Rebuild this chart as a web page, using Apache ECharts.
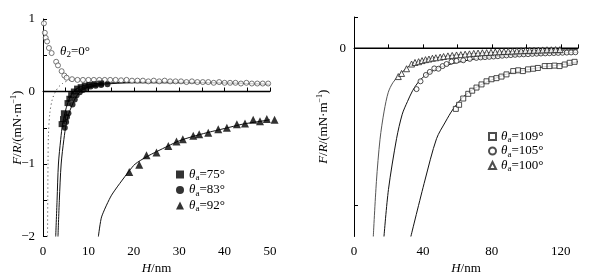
<!DOCTYPE html>
<html>
<head>
<meta charset="utf-8">
<script src="https://cdn.jsdelivr.net/npm/echarts@6/dist/echarts.min.js"></script>
<style>html,body{margin:0;padding:0;background:#fff}#main{width:599px;height:280px}</style>
</head>
<body>
<div id="main"></div>
<script>
// left panel: H/nm vs F/R
const zeroLeft = [[0, 0], [50, 0]];
const dotted0 = [[1.0,-2],[1.05,-1.5],[1.1,-1.0],[1.2,-0.6],[1.5,-0.3],[2.0,-0.12],[2.6,-0.02],[3.4,0.06],[4.3,0.11],[5.5,0.15],[7,0.17]];
const open0 = [[0.2,0.94],[0.4,0.81],[0.6,0.74],[0.9,0.69],[1.3,0.6],[1.9,0.53],[2.9,0.41],[3.3,0.36],[4.1,0.28],[4.7,0.22],[5.2,0.19],[6.4,0.17],[7.6,0.16],[8.8,0.16],[10,0.16],[11.2,0.16],[12.4,0.16],[13.6,0.16],[14.8,0.16],[16,0.16],[17.2,0.155],[18.4,0.16],[19.6,0.15],[20.8,0.15],[22,0.15],[23.2,0.14],[24.4,0.15],[25.6,0.14],[26.8,0.15],[28,0.14],[29.2,0.14],[30.4,0.14],[31.6,0.13],[32.8,0.14],[34,0.13],[35.2,0.13],[36.4,0.13],[37.6,0.12],[38.8,0.13],[40,0.12],[41.2,0.12],[42.4,0.12],[43.6,0.11],[44.8,0.12],[46,0.11],[47.2,0.11],[48.4,0.11],[49.6,0.11]];
const fit75 = [[2.8,-2],[3.1,-1.5],[3.4,-1.0],[3.9,-0.66],[4.3,-0.45],[4.8,-0.3],[5.5,-0.15],[6.3,-0.04],[7.2,0.03],[8.5,0.07],[10,0.1],[15,0.12],[25,0.13],[40,0.12],[50,0.1]];
const pts75 = [[4.1,-0.45],[4.4,-0.38],[4.6,-0.3],[5.4,-0.16],[5.8,-0.1],[6.2,-0.05],[6.8,0.0],[7.5,0.04],[8.3,0.06],[9.2,0.08],[10.2,0.09],[11.4,0.1],[12.8,0.11]];
const fit83 = [[3.3,-2],[3.6,-1.5],[4.0,-1.0],[4.6,-0.66],[5.1,-0.45],[5.6,-0.32],[6.4,-0.19],[7.2,-0.08],[8.2,0.0],[9.5,0.05],[11,0.08],[13,0.1],[20,0.12],[35,0.12],[50,0.1]];
const pts83 = [[4.8,-0.5],[5.1,-0.42],[5.3,-0.35],[5.6,-0.3],[6.5,-0.18],[7.0,-0.11],[7.4,-0.05],[8.1,-0.01],[8.8,0.02],[9.6,0.05],[10.5,0.07],[11.6,0.08],[12.8,0.09],[14.2,0.1]];
const fit92 = [[12.2,-2],[12.9,-1.73],[15.1,-1.43],[18.8,-1.11],[20.3,-1.0],[22.8,-0.9],[25,-0.83],[27.6,-0.75],[30,-0.68],[33,-0.62],[36,-0.57],[40,-0.51],[44,-0.45],[48,-0.41],[50,-0.39]];
const pts92 = [[19,-1.11],[21.2,-1.01],[22.8,-0.88],[25,-0.84],[27.6,-0.75],[29.4,-0.69],[30.8,-0.66],[33.1,-0.61],[34.4,-0.59],[36.4,-0.57],[38.6,-0.52],[40.5,-0.5],[42.7,-0.45],[44.5,-0.44],[46.3,-0.39],[47.8,-0.41],[49.3,-0.38],[51,-0.39]];

// right panel
const zeroRight = [[0, 0], [130, 0]];
const fit109 = [[33,-1.2],[41.2,-0.84],[47.9,-0.576],[53,-0.47],[57.6,-0.386],[63.4,-0.31],[70,-0.255],[80,-0.2],[90,-0.16],[100,-0.138],[110,-0.118],[120,-0.105],[130,-0.085]];
const pts109 = [[59.1,-0.386],[61,-0.36],[63.4,-0.32],[66.3,-0.29],[68.6,-0.27],[71.1,-0.25],[74,-0.23],[76.9,-0.21],[79.8,-0.197],[82.7,-0.19],[85.6,-0.18],[88.5,-0.166],[92.4,-0.145],[95.3,-0.14],[98,-0.145],[101,-0.134],[104,-0.13],[106.7,-0.125],[110.7,-0.113],[113.5,-0.113],[116.4,-0.11],[119.3,-0.113],[122.3,-0.103],[125.2,-0.092],[128,-0.086]];
const fit105 = [[17.4,-1.2],[20,-0.9],[24.7,-0.576],[28,-0.42],[31,-0.34],[34,-0.27],[37,-0.22],[40,-0.185],[43,-0.16],[50,-0.12],[60,-0.09],[70,-0.068],[80,-0.055],[100,-0.04],[120,-0.03],[130,-0.025]];
const pts105 = [[36.3,-0.26],[38.6,-0.21],[41.7,-0.17],[44,-0.15],[46.6,-0.128],[49,-0.13],[51.4,-0.113],[53.7,-0.1],[56.6,-0.084],[59.5,-0.08],[63.4,-0.076],[67.2,-0.067],[71,-0.061],[73.5,-0.058],[76,-0.056],[78.5,-0.054],[81,-0.052],[83.5,-0.05],[86,-0.047],[88.5,-0.045],[91,-0.043],[93.5,-0.041],[96,-0.039],[98.5,-0.038],[101,-0.037],[103.5,-0.035],[106,-0.034],[108.5,-0.033],[111,-0.032],[113.5,-0.031],[116,-0.03],[118.5,-0.029],[121,-0.028],[123.5,-0.027],[126,-0.026],[128.5,-0.025]];
const fit100 = [[11.2,-1.2],[13,-0.85],[15.1,-0.58],[17.5,-0.4],[19.9,-0.28],[22.5,-0.22],[25.7,-0.177],[30,-0.13],[35,-0.095],[45,-0.065],[60,-0.042],[80,-0.027],[100,-0.016],[120,-0.009],[130,-0.007]];
const pts100 = [[25.7,-0.18],[27.6,-0.16],[30.5,-0.13],[33.4,-0.1],[35.4,-0.09],[37.5,-0.085],[39.5,-0.078],[41.5,-0.072],[43.5,-0.068],[45.5,-0.063],[47.5,-0.06],[50,-0.056],[52,-0.052],[54.5,-0.048],[57,-0.045],[59.5,-0.042],[62,-0.04],[64.5,-0.037],[67,-0.035],[69.5,-0.032],[72,-0.03],[74.5,-0.028],[77,-0.027],[79.5,-0.025],[82,-0.023],[84.5,-0.022],[87,-0.02],[89.5,-0.019],[92,-0.018],[94.5,-0.016],[97,-0.015],[99.5,-0.014],[102,-0.013],[104.5,-0.012],[107,-0.011],[109.5,-0.01],[112,-0.009],[114.5,-0.009],[117,-0.008],[119.5,-0.008]];

const legendLeft = ['75°', '83°', '92°'];
const legendRight = ['109°', '105°', '100°'];

const FONT = 'Liberation Serif';
const rich = {
  i: { fontStyle: 'italic', fontFamily: FONT, fontSize: 13, lineHeight: 16, color: '#000' },
  n: { fontFamily: FONT, fontSize: 13, lineHeight: 16, color: '#000' },
  s: { fontFamily: FONT, fontSize: 9, lineHeight: 9, verticalAlign: 'bottom', color: '#000' },
  u: { fontFamily: FONT, fontSize: 8, lineHeight: 8, verticalAlign: 'top', color: '#000' }
};

let myChart = echarts.init(document.getElementById('main'));

const line = (data, xi, extra) => Object.assign({
  type: 'line', data: data, xAxisIndex: xi, yAxisIndex: xi,
  symbol: 'none', silent: true, smooth: 0.3,
  lineStyle: { color: '#111', width: 1 }, z: 2
}, extra || {});

const pts = (name, data, xi, symbol, size, hollow, extra) => Object.assign({
  type: 'scatter', name: name, data: data, xAxisIndex: xi, yAxisIndex: xi,
  symbol: symbol, symbolSize: size, silent: true,
  itemStyle: hollow ? { color: '#fff', borderColor: '#222', borderWidth: 1 } : { color: '#000' },
  z: 3
}, extra || {});

const yName = '{i|F}{n|/}{i|R}{n|/(mN·m}{u|−1}{n|)}';
const xName = '{i|H}{n|/nm}';

const axisCommon = {
  axisLine: { lineStyle: { color: '#000', width: 1 } },
  axisTick: { inside: true, length: 4, lineStyle: { color: '#000' } },
  splitLine: { show: false },
  axisLabel: { fontFamily: FONT, fontSize: 13, color: '#000' },
  nameTextStyle: { rich: rich },
  nameMoveOverlap: false
};

myChart.setOption({
  animation: false,
  grid: [
    { left: 43, top: 19, width: 227, height: 219 },
    { left: 354, top: 17, width: 224, height: 222 }
  ],
  xAxis: [
    Object.assign({}, axisCommon, {
      gridIndex: 0, type: 'value', min: 0, max: 50, interval: 5,
      name: xName, nameLocation: 'middle', nameGap: 24,
      axisLabel: Object.assign({}, axisCommon.axisLabel, { margin: 9, formatter: v => v % 10 === 0 ? String(v) : '' })
    }),
    Object.assign({}, axisCommon, {
      gridIndex: 1, type: 'value', min: 0, max: 130,
      name: xName, nameLocation: 'middle', nameGap: 24,
      axisTick: Object.assign({}, axisCommon.axisTick, { customValues: [0, 20, 40, 60, 80, 100, 120, 130] }),
      axisLabel: Object.assign({}, axisCommon.axisLabel, { margin: 9, customValues: [0, 40, 80, 120] })
    })
  ],
  yAxis: [
    Object.assign({}, axisCommon, {
      gridIndex: 0, type: 'value', min: -2, max: 1, interval: 0.5,
      name: yName, nameLocation: 'middle', nameRotate: 90, nameGap: 17,
      axisLabel: Object.assign({}, axisCommon.axisLabel, { margin: 8, formatter: v => Number.isInteger(v) ? String(v).replace('-', '−') : '' })
    }),
    Object.assign({}, axisCommon, {
      gridIndex: 1, type: 'value', min: -1.2, max: 0.2,
      name: yName, nameLocation: 'middle', nameRotate: 90, nameGap: 22,
      axisTick: Object.assign({}, axisCommon.axisTick, { customValues: [0.2, 0, -1] }),
      axisLabel: Object.assign({}, axisCommon.axisLabel, { margin: 8, customValues: [0] })
    })
  ],
  legend: [
    {
      data: legendLeft, orient: 'vertical', left: 176, top: 168, itemGap: 1,
      itemWidth: 8, itemHeight: 8, padding: 0,
      formatter: n => '{i|θ}{s|a}{n|=' + n + '}',
      textStyle: { rich: rich }, selectedMode: false
    },
    {
      data: legendRight, orient: 'vertical', left: 488, top: 130, itemGap: 0,
      itemWidth: 7, itemHeight: 7, padding: 0,
      formatter: n => '{i|θ}{s|a}{n|=' + n + '}',
      textStyle: { rich: rich }, selectedMode: false
    }
  ],
  graphic: [
    { type: 'text', left: 60, top: 45, style: { text: '{i|θ}{s|2}{n|=0°}', rich: rich } }
  ],
  series: [
    line(zeroLeft, 0, { smooth: false, lineStyle: { color: '#000', width: 1.5 } }),
    line(dotted0, 0, { lineStyle: { color: '#333', width: 1, type: [1, 3] } }),
    pts('open0', open0, 0, 'circle', 5, true, { itemStyle: { color: '#fff', borderColor: '#555', borderWidth: 1 } }),
    line(fit75, 0),
    line(fit83, 0),
    line(fit92, 0, { smooth: 0.2 }),
    pts('75°', pts75, 0, 'rect', 6, false),
    pts('83°', pts83, 0, 'circle', 6, false),
    pts('92°', pts92, 0, 'triangle', 8, false, { clip: false }),

    line(zeroRight, 1, { smooth: false, lineStyle: { color: '#000', width: 1.5 } }),
    line(fit109, 1),
    line(fit105, 1),
    line(fit100, 1, { lineStyle: { color: '#555', width: 1 } }),
    pts('109°', pts109, 1, 'rect', 5, true),
    pts('105°', pts105, 1, 'circle', 5, true),
    pts('100°', pts100, 1, 'triangle', 6, true)
  ]
});

window.addEventListener('resize', () => { myChart.resize(); });
</script>
</body>
</html>
